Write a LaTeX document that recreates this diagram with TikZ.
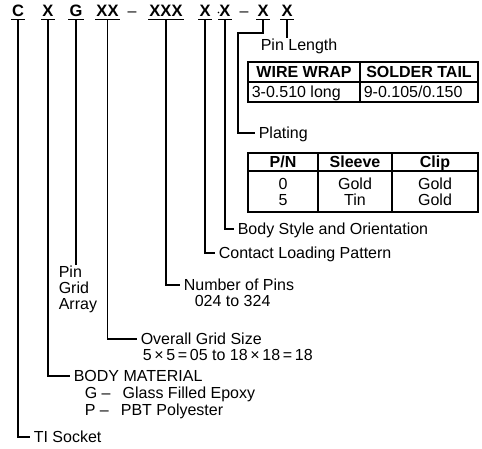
\documentclass[tikz,border=0pt]{standalone}
\usepackage{fontspec}
\setmainfont{Liberation Sans}
\begin{document}
\begin{tikzpicture}[x=1pt,y=-1pt,line width=1.6pt,line join=miter,
  hdr/.style={font=\bfseries\fontsize{16.5}{18}\selectfont, anchor=base, inner xsep=0.3pt, inner ysep=2pt, text height=11.8pt, text depth=0pt},
  sepch/.style={font=\fontsize{16}{18}\selectfont, anchor=base, inner sep=0pt},
  lbl/.style={font=\fontsize{16}{18}\selectfont, anchor=west, inner xsep=3pt, inner ysep=0pt, text height=11.5pt, text depth=0pt},
  txt/.style={lbl, inner xsep=0pt},
  th/.style={font=\bfseries\fontsize{16}{18}\selectfont, anchor=base, inner sep=0pt},
  td/.style={font=\fontsize{16}{18}\selectfont, anchor=base, inner sep=0pt},
  tbl/.style={line width=1.7pt}]
\useasboundingbox (0,0) rectangle (482,448);
% header code
\node[hdr] (hC) at (18,16.8) {C};
\node[hdr] (hX1) at (48,16.8) {X};
\node[hdr] (hG) at (76,16.8) {G};
\node[hdr] (hXX) at (107.5,16.8) {XX};
\node[sepch] (d1) at (132,16.8) {–};
\node[hdr] (hXXX) at (166,16.8) {XXX};
\node[hdr] (hX2) at (205,16.8) {X};
\fill (218.5,12.5) circle (0.9);
\node[hdr] (hX3) at (225,16.8) {X};
\node[sepch] (d2) at (244,16.8) {–};
\node[hdr] (hX4) at (263,16.8) {X};
\node[hdr] (hX5) at (287,16.8) {X};
\foreach \n in {hC,hX1,hG,hXX,hXXX,hX2,hX3,hX4,hX5}
  \draw (\n.south west) -- (\n.south east);
% labels
\node[lbl] (ti) at (30,437) {TI Socket};
\node[lbl] (bm) at (70,376) {BODY MATERIAL};
\node[txt] (bmg) at (84,393) {G\hspace{4.5pt}–\hspace{12pt}Glass Filled Epoxy};
\node[txt] (bmp) at (84,410) {P\hspace{4.5pt}–\hspace{12pt}PBT Polyester};
\node[lbl] (ogs) at (137,339) {Overall Grid Size};
\node[txt] (ogs2) at (142,355) {5\,×\,5\,=\,05 to 18\,×\,18\,=\,18};
\node[txt] (pga1) at (58,272) {Pin};
\node[txt] (pga2) at (58,288) {Grid};
\node[txt] (pga3) at (58,304) {Array};
\node[lbl] (nop) at (180,285) {Number of Pins};
\node[txt] (nop2) at (194,301) {024 to 324};
\node[lbl] (clp) at (215,253) {Contact Loading Pattern};
\node[lbl] (bso) at (234,229) {Body Style and Orientation};
\node[lbl] (plt) at (255,133) {Plating};
\node[lbl] (pl) at (257,45) {Pin Length};
% connectors
\draw (hC.south) |- (ti.west);
\draw (hX1.south) |- (bm.west);
\draw (hG.south) -- (hG.south |- pga1.north);
\draw (hXX.south) |- (ogs.west);
\draw (hXXX.south) |- (nop.west);
\draw (hX2.south) |- (clp.west);
\draw (hX3.south) |- (bso.west);
\coordinate (pc) at (238,33);
\draw (hX4.south) |- (pc) |- (plt.west);
\draw (hX5.south) -- (hX5.south |- pl.north);
% table pin length
\draw[tbl] (248,62) rectangle (478,102);
\draw[tbl] (248,82) -- (478,82) (360,62) -- (360,102);
\node[th] (t1a) at (304,77.5) {WIRE WRAP};
\node[th] (t1b) at (419,77.5) {SOLDER TAIL};
\node[td,anchor=base west] (t1c) at (251,97.5) {3-0.510 long};
\node[td,anchor=base west] (t1d) at (363,97.5) {9-0.105/0.150};
% table plating
\draw[tbl] (248,153) rectangle (478,212);
\draw[tbl] (248,171) -- (478,171) (318,153) -- (318,212) (392,153) -- (392,212);
\node[th] (t2a) at (283,167.5) {P/N};
\node[th] (t2b) at (355,167.5) {Sleeve};
\node[th] (t2c) at (435,167.5) {Clip};
\node[td] (t2d) at (283,189.5) {0};
\node[td] (t2e) at (355,189.5) {Gold};
\node[td] (t2f) at (435,189.5) {Gold};
\node[td] (t2g) at (283,205.5) {5};
\node[td] (t2h) at (355,205.5) {Tin};
\node[td] (t2i) at (435,205.5) {Gold};
\end{tikzpicture}
\end{document}
